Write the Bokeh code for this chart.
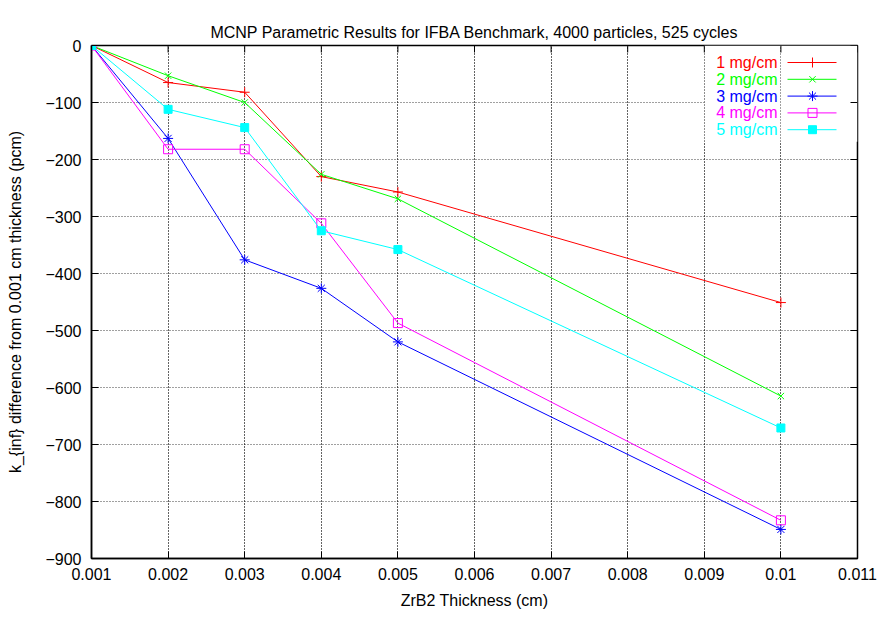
from bokeh.plotting import figure
from bokeh.models import Range1d, FixedTicker, BoxAnnotation, Grid
from bokeh.core.properties import value
from bokeh.embed import file_html
from bokeh.resources import INLINE

# ZrB2 coating thickness (cm)
thickness = [0.001, 0.002, 0.003, 0.004, 0.005, 0.010]

# k_inf change relative to the 0.001 cm case (pcm), one series per boron loading
k_1mg = [0, -65, -82, -230, -257, -451]
k_2mg = [0, -53, -100, -226, -269, -615]
k_3mg = [0, -163, -376, -426, -520, -849]
k_4mg = [0, -182, -182, -312, -487, -833]
k_5mg = [0, -112, -144, -325, -358, -671]

series_labels = ["1 mg/cm", "2 mg/cm", "3 mg/cm", "4 mg/cm", "5 mg/cm"]
series_values = [k_1mg, k_2mg, k_3mg, k_4mg, k_5mg]

x_ticks = [0.001, 0.002, 0.003, 0.004, 0.005, 0.006, 0.007, 0.008, 0.009, 0.010, 0.011]
x_tick_labels = ["0.001", "0.002", "0.003", "0.004", "0.005", "0.006",
                 "0.007", "0.008", "0.009", "0.01", "0.011"]
y_ticks = [0, -100, -200, -300, -400, -500, -600, -700, -800, -900]

colors = ["#ff0000", "#00ff00", "#0000ff", "#ff00ff", "#00ffff"]
markers = ["cross", "x", "asterisk", "square", "square"]
filled = [False, False, False, False, True]
marker_sizes = [10, 9, 10, 9, 8]

FONT = "Liberation Sans"
X0, X1 = 0.001, 0.011
Y0, Y1 = -900, 0
W, H = 881, 618
BL, BR, BT, BB = 91, 24, 45, 60
FW, FH = W - BL - BR, H - BT - BB
TICK_LEN = 7

p = figure(width=W, height=H, output_backend="svg", toolbar_location=None,
           x_range=Range1d(X0, X1), y_range=Range1d(Y0, Y1),
           min_border_left=BL, min_border_right=BR, min_border_top=BT, min_border_bottom=BB,
           title="MCNP Parametric Results for IFBA Benchmark, 4000 particles, 525 cycles")
p.title.align = "center"
p.title.text_font = FONT
p.title.text_font_size = "16px"
p.title.text_font_style = "normal"
p.title.text_color = "#000000"

p.outline_line_color = "#000000"
p.outline_line_width = 1.5

def style_axis(ax):
    ax.axis_line_color = "#000000"
    ax.axis_line_width = 1.5
    ax.major_tick_in = TICK_LEN
    ax.major_tick_out = 0
    ax.major_tick_line_color = "#000000"
    ax.minor_tick_line_color = None
    ax.major_label_text_font = FONT
    ax.major_label_text_font_size = "16px"
    ax.major_label_text_color = "#000000"
    ax.axis_label_text_font = FONT
    ax.axis_label_text_font_size = "16px"
    ax.axis_label_text_font_style = "normal"
    ax.axis_label_text_color = "#000000"

xt = FixedTicker(ticks=x_ticks)
yt = FixedTicker(ticks=y_ticks)

xa = p.xaxis[0]
xa.ticker = xt
xa.major_label_overrides = {t: s for t, s in zip(x_ticks, x_tick_labels)}
xa.axis_label = "ZrB2 Thickness (cm)"
xa.major_label_standoff = 9
xa.axis_label_standoff = 9
style_axis(xa)

ya = p.yaxis[0]
ya.ticker = yt
ya.axis_label = "k_{inf} difference from 0.001 cm thickness (pcm)"
ya.major_label_standoff = 10
ya.axis_label_standoff = 18
style_axis(ya)

for g in p.grid:
    g.grid_line_color = "#000000"
    g.grid_line_alpha = 0.75
    g.grid_line_dash = "1 2"
    g.grid_line_width = 1
p.xgrid.ticker = xt
p.ygrid.ticker = yt

# pixel offsets from the frame's top-right corner -> data coordinates
def px_to_x(px_from_right):
    return X1 - px_from_right / FW * (X1 - X0)

def px_to_y(px_from_top):
    return Y1 - px_from_top / FH * (Y1 - Y0)

# mirrored inward ticks along the top and right border
p.segment(x0=x_ticks, x1=x_ticks, y0=[Y1] * len(x_ticks), y1=[px_to_y(TICK_LEN)] * len(x_ticks),
          line_color="#000000", line_width=1)
p.segment(x0=[X1] * len(y_ticks), x1=[px_to_x(TICK_LEN)] * len(y_ticks), y0=y_ticks, y1=y_ticks,
          line_color="#000000", line_width=1)

row_offsets = [17.0 + 16.8 * i for i in range(len(series_labels))]
text_right = px_to_x(80)
sample_left, sample_mid, sample_right = px_to_x(70), px_to_x(45), px_to_x(21)

# the key area blanks the horizontal grid lines behind it
key_bg = BoxAnnotation(left=0.009, right=X1, top=Y1, bottom=px_to_y(row_offsets[-1] + 12),
                       fill_color="white", fill_alpha=1.0, line_color=None, level="underlay")
p.add_layout(key_bg)
p.add_layout(Grid(dimension=0, ticker=xt, grid_line_color="#000000", grid_line_alpha=0.75,
                  grid_line_dash="1 2", grid_line_width=1, level="underlay"))

for vals, c, m, f, s in zip(series_values, colors, markers, filled, marker_sizes):
    p.line(thickness, vals, line_color=c, line_width=1)
    p.scatter(thickness, vals, marker=m, size=s, line_color=c, line_width=1,
              fill_color=c if f else None)

key_y = [px_to_y(o) for o in row_offsets]
p.text(x=[text_right] * len(series_labels), y=key_y, text=series_labels,
       text_color=colors, text_font=value(FONT), text_font_size="16px",
       text_align="right", text_baseline="middle")
for yk, c, m, f, s in zip(key_y, colors, markers, filled, marker_sizes):
    p.line([sample_left, sample_right], [yk, yk], line_color=c, line_width=1)
    p.scatter([sample_mid], [yk], marker=m, size=s, line_color=c, line_width=1,
              fill_color=c if f else None)

open("out.html", "w").write(file_html(p, INLINE))
